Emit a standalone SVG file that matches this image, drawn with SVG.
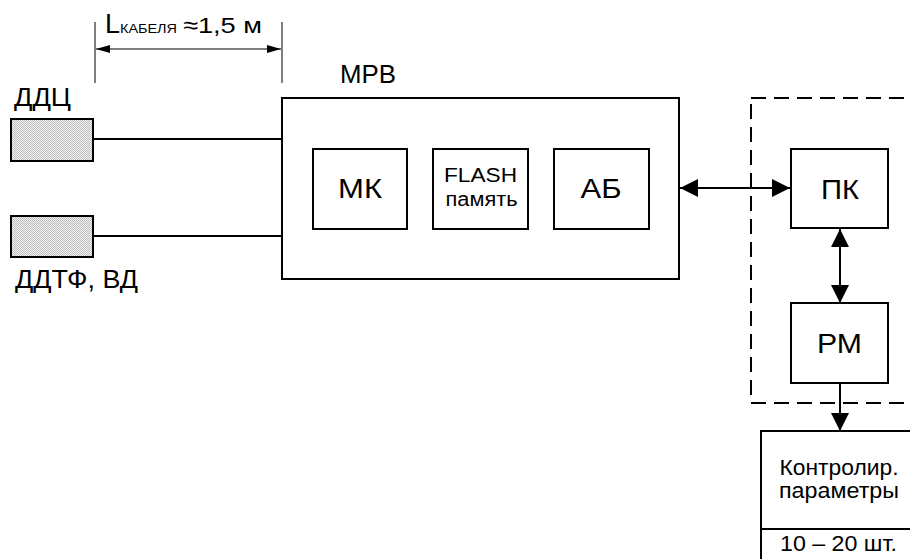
<svg xmlns="http://www.w3.org/2000/svg" width="910" height="559" viewBox="0 0 910 559">
<style>
text{font-family:"Liberation Sans",Arial,sans-serif;fill:#000}
.box{fill:#fff;stroke:#000;stroke-width:2}
.sensor{fill:url(#dots);stroke:#000;stroke-width:2}
.wire{fill:none;stroke:#000;stroke-width:2}
.lbl{font-size:25px}
.big{font-size:28px;text-anchor:middle}
.mid{font-size:22.5px;text-anchor:middle}
</style>
<defs>
<pattern id="dots" width="2" height="2" patternUnits="userSpaceOnUse">
<rect width="2" height="2" fill="#f2f2f2"/>
<rect width="1" height="1" fill="#bdbdbd"/>
<rect x="1" y="1" width="1" height="1" fill="#bdbdbd"/>
</pattern>
<marker id="ah" viewBox="0 0 18 18" refX="18" refY="9" markerWidth="18" markerHeight="18" markerUnits="userSpaceOnUse" orient="auto-start-reverse">
<path d="M0,0 L18,9 L0,18 Z" fill="#000"/>
</marker>
<marker id="ahs" viewBox="0 0 14 8" refX="14" refY="4" markerWidth="14" markerHeight="8" markerUnits="userSpaceOnUse" orient="auto-start-reverse">
<path d="M0,0 L14,4 L0,8 Z" fill="#000"/>
</marker>
</defs>

<g id="dimension">
<line x1="95" y1="22" x2="95" y2="83" stroke="#000" stroke-width="1"/>
<line x1="282" y1="22" x2="282" y2="83" stroke="#000" stroke-width="1"/>
<line x1="96" y1="49" x2="281" y2="49" stroke="#555" stroke-width="1.5" marker-start="url(#ahs)" marker-end="url(#ahs)"/>
<text x="105" y="33" font-size="27">L</text>
<text x="120" y="33" font-size="12.5" textLength="57" lengthAdjust="spacingAndGlyphs">КАБЕЛЯ</text>
<text x="183" y="33" font-size="22.5" textLength="79" lengthAdjust="spacingAndGlyphs">≈1,5 м</text>
</g>

<g id="ddc">
<rect class="sensor" x="11" y="119" width="82" height="42"/>
<text class="lbl" x="14" y="106" textLength="57" lengthAdjust="spacingAndGlyphs">ДДЦ</text>
</g>

<g id="ddtf">
<rect class="sensor" x="11" y="216" width="82" height="41"/>
<text class="lbl" x="15" y="288" textLength="123" lengthAdjust="spacingAndGlyphs">ДДТФ, ВД</text>
</g>

<g id="mrv">
<rect class="box" x="282" y="98" width="397" height="181"/>
<text class="lbl" x="340" y="83" textLength="56" lengthAdjust="spacingAndGlyphs">МРВ</text>
</g>

<g id="mk">
<rect class="box" x="313" y="149" width="94" height="80"/>
<text class="big" x="360" y="198" textLength="44" lengthAdjust="spacingAndGlyphs">МК</text>
</g>

<g id="flash">
<rect class="box" x="433" y="149" width="95" height="80"/>
<text x="480.5" y="182" font-size="20" text-anchor="middle" textLength="73" lengthAdjust="spacingAndGlyphs">FLASH</text>
<text x="481.5" y="206" font-size="20" text-anchor="middle" textLength="72" lengthAdjust="spacingAndGlyphs">память</text>
</g>

<g id="ab">
<rect class="box" x="554" y="149" width="95" height="80"/>
<text class="big" x="601" y="198" textLength="41" lengthAdjust="spacingAndGlyphs">АБ</text>
</g>

<g id="group">
<rect x="751" y="98" width="200" height="305" fill="none" stroke="#000" stroke-width="2" stroke-dasharray="15 8"/>
</g>

<g id="pk">
<rect class="box" x="791" y="149" width="97" height="79"/>
<text class="big" x="840" y="199" textLength="38" lengthAdjust="spacingAndGlyphs">ПК</text>
</g>

<g id="rm">
<rect class="box" x="791" y="303" width="97" height="80"/>
<text class="big" x="839.5" y="353" textLength="45" lengthAdjust="spacingAndGlyphs">РМ</text>
</g>

<g id="params">
<rect class="box" x="761" y="431" width="200" height="200"/>
<line x1="761" y1="529" x2="910" y2="529" stroke="#000" stroke-width="2"/>
<text class="mid" x="839" y="475" textLength="119" lengthAdjust="spacingAndGlyphs">Контролир.</text>
<text class="mid" x="839" y="498" textLength="120" lengthAdjust="spacingAndGlyphs">параметры</text>
<text class="mid" x="838.5" y="551" textLength="117" lengthAdjust="spacingAndGlyphs">10 – 20 шт.</text>
</g>

<g id="connectors">
<line class="wire" x1="93" y1="139" x2="282" y2="139"/>
<line class="wire" x1="93" y1="236" x2="282" y2="236"/>
<line class="wire" x1="680" y1="188" x2="790" y2="188" marker-start="url(#ah)" marker-end="url(#ah)"/>
<line class="wire" x1="840" y1="229" x2="840" y2="303" marker-start="url(#ah)" marker-end="url(#ah)"/>
<line class="wire" x1="840" y1="383" x2="840" y2="431" marker-end="url(#ah)"/>
</g>
</svg>
